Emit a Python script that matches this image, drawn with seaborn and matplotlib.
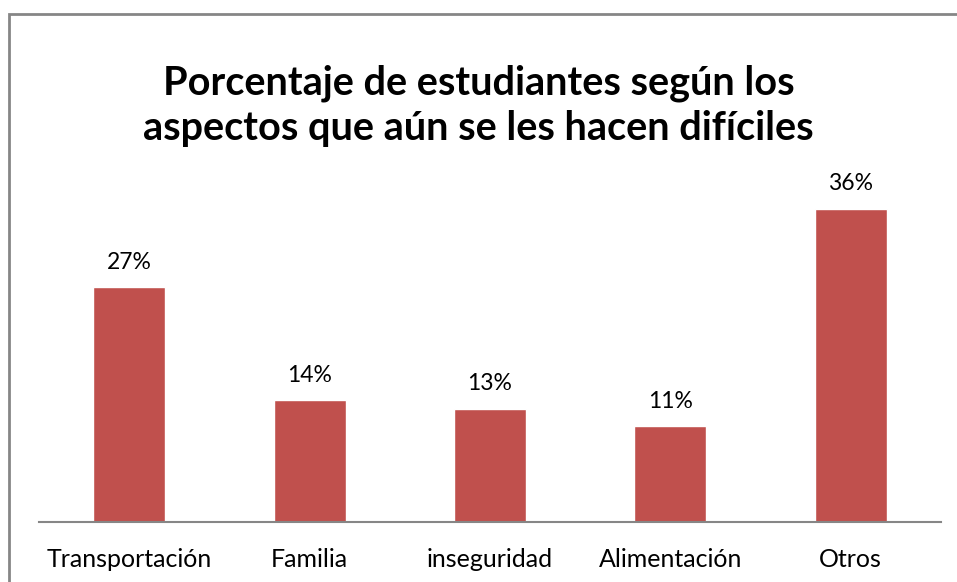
import matplotlib
matplotlib.use("Agg")
import matplotlib.pyplot as plt
import seaborn as sns
import pandas as pd
from matplotlib.patches import Rectangle

# data
categorias = ["Transportación", "Familia", "inseguridad", "Alimentación", "Otros"]
porcentajes = [27, 14, 13, 11, 36]
titulo = "Porcentaje de estudiantes según los\naspectos que aún se les hacen difíciles"

sns.set_style("white")
plt.rcParams['font.family'] = ['Lato', 'DejaVu Sans']

W, H = 957, 582
fig = plt.figure(figsize=(W / 100, H / 100), dpi=100)

# outer chart border (left + top visible, runs off the image right/bottom)
fig.patches.append(Rectangle((9 / W, -0.1), 1.2, 1.1 - 14 / H, transform=fig.transFigure,
                             fill=False, edgecolor="#868686", linewidth=2))

ax = fig.add_axes([39 / W, 1 - 522 / H, (941 - 39) / W, (522 - 174.4) / H])
df = pd.DataFrame({"cat": categorias, "pct": porcentajes})
sns.barplot(data=df, x="cat", y="pct", color="#C0504D", width=0.4, saturation=1, ax=ax)

ax.set_ylim(0, 40)
ax.set_xlim(-0.5, len(categorias) - 0.5)
ax.set_yticks([])
ax.set_xlabel("")
ax.set_ylabel("")
for s in ["left", "right", "top"]:
    ax.spines[s].set_visible(False)
ax.spines["bottom"].set_color("#868686")
ax.spines["bottom"].set_linewidth(1.5)
ax.tick_params(axis="x", length=0, pad=19, labelsize=18, labelcolor="black")

for i, v in enumerate(porcentajes):
    ax.text(i, v + 2.9, f"{v}%", ha="center", va="center", fontsize=16.5, color="black")

fig.text(0.5, 1 - 106 / H, titulo, ha="center", va="center", fontsize=28.5,
         fontweight="bold", linespacing=1.28, color="black")

fig.savefig("out.png", dpi=100)
